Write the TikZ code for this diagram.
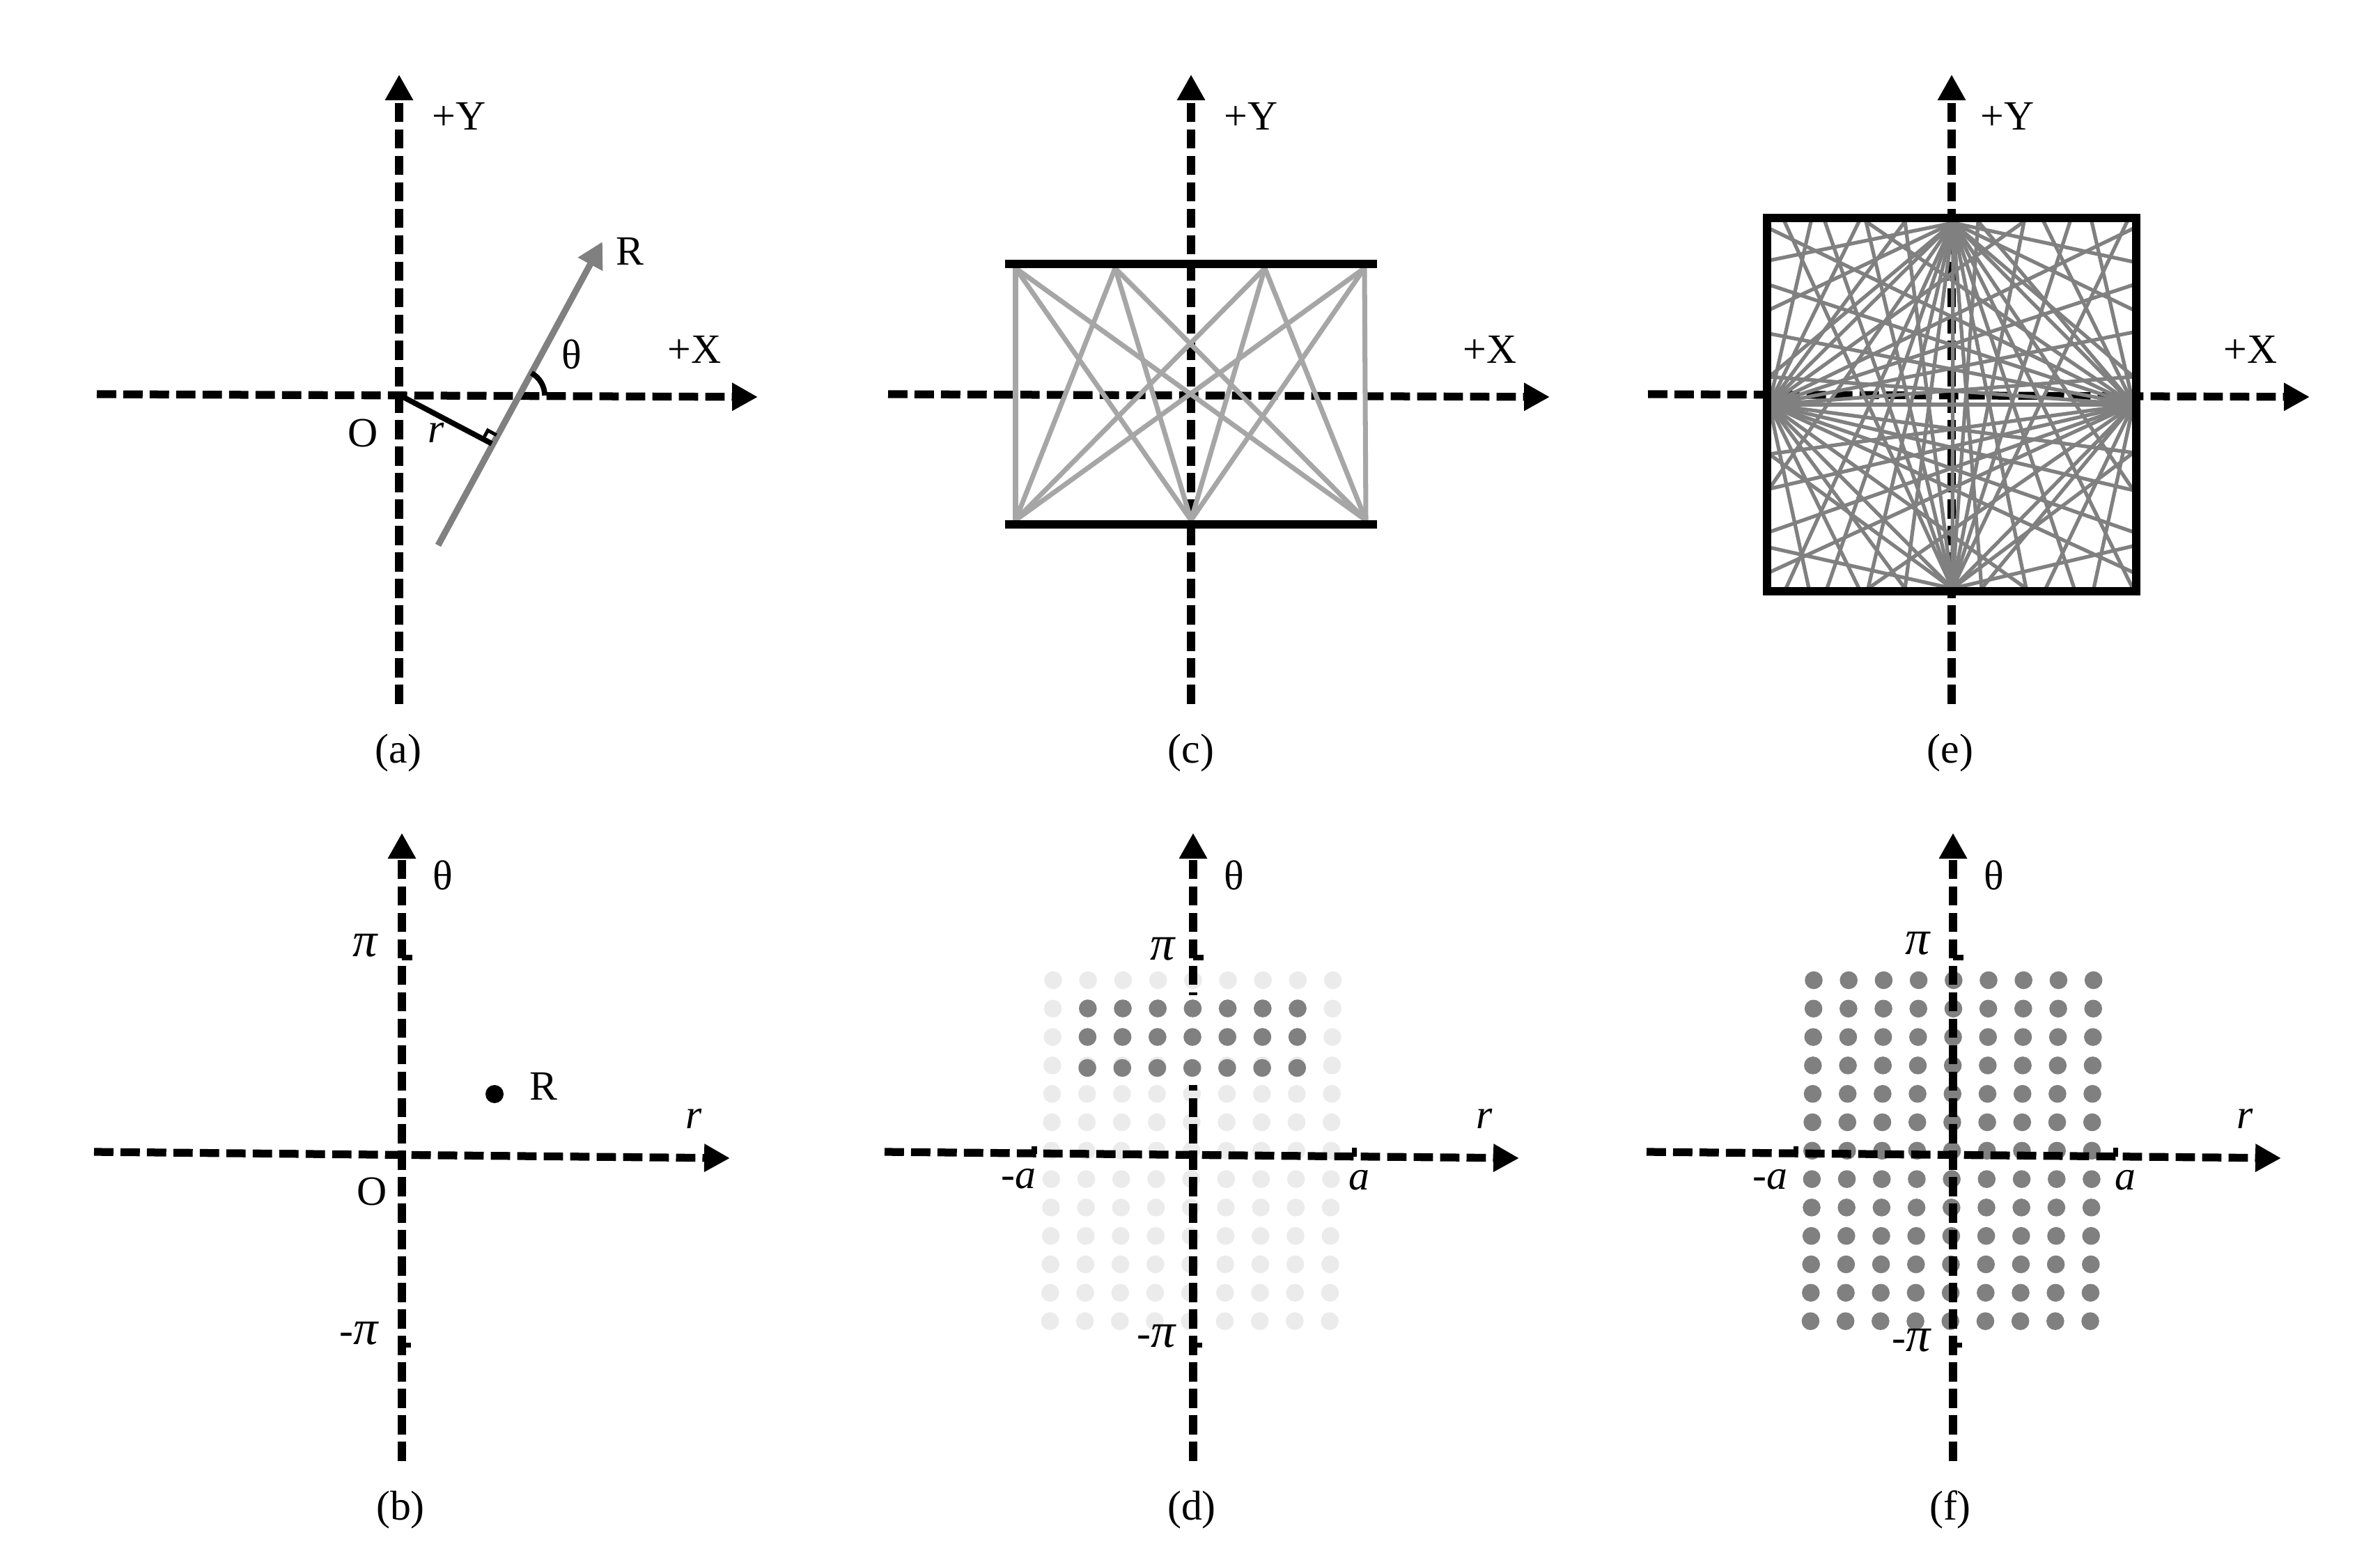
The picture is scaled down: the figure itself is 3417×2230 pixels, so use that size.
\documentclass[tikz,border=0pt]{standalone}
\usepackage{fontspec}
\setmainfont{Liberation Serif}
\usepackage{tikz}
\usetikzlibrary{arrows.meta}
\newcommand{\pisym}{{\fontsize{20}{20}\selectfont\textit{π}}}

\begin{document}
\begin{tikzpicture}
            [x=.01cm,y=-.01cm,
             every node/.style={font=\fontsize{17}{20}\selectfont,inner sep=0pt},
             axis/.style={line width=3.2pt,dash pattern=on 7.9pt off 2.9pt,-{Triangle[length=10.5pt,width=10.8pt]}},
             tick/.style={line width=2pt},
             lightdot/.style={fill=black!8},
             darkdot/.style={fill=black!50},
             ray/.style={line width=1.5pt,black!50}]
            \useasboundingbox (0,0) rectangle (3417,2230);

            % dots lie under the axes
            \foreach \i in {0,...,8}
              \foreach \j in {0,...,12} {
                \fill[lightdot] ({1512+\i*50.2-\j*0.38},{1407.5+\j*40.8}) circle (12.8);
                \fill[darkdot] ({2604+\i*50.2-\j*0.38},{1407.5+\j*40.8}) circle (12.8);
              }

            % axes
            \foreach \p/\vx/\hl/\hr in {a/573/139/1088,c/1710/1275/2225,e/2802/2366/3316} {
              \coordinate (\p top) at (\vx,107);
              \coordinate (\p bot) at (\vx,1011);
              \coordinate (\p left) at (\hl,566);
              \coordinate (\p right) at (\hr,570);
              \draw[axis] (\p bot) -- (\p top);
              \draw[axis] (\p left) -- (\p right);
            }
            \foreach \p/\vx/\hl/\hr in {b/577/135/1048,d/1713/1270/2181,f/2804/2364/3275} {
              \coordinate (\p top) at (\vx,1196);
              \coordinate (\p bot) at (\vx,2098);
              \coordinate (\p left) at (\hl,1654);
              \coordinate (\p right) at (\hr,1663);
              \draw[axis] (\p bot) -- (\p top);
              \draw[axis] (\p left) -- (\p right);
              \draw[tick] (\vx,1375) -- (\vx+15,1375);
              \draw[tick] (\vx,1931) -- (\vx+13,1931);
            }
            \draw[tick] (1485,1646) -- (1485,1657);
            \draw[tick] (1944,1648) -- (1944,1661);
            \draw[tick] (2578,1646) -- (2578,1657);
            \draw[tick] (3037,1648) -- (3037,1661);

            % (a)
            \coordinate (O) at (573,567);
            \coordinate (foot) at (706,637);
            \coordinate (Rs) at (629,783);
            \coordinate (Re) at (865,347);
            \draw[line width=2.6pt,black!50,-{Triangle[length=10.5pt,width=10.8pt]}] (Rs) -- (Re);
            \draw[line width=2.2pt] (O) -- (foot);
            \draw[line width=1.4pt] (693.7,630.3) -- (700.4,618) -- (712.7,624.7);
            \draw[line width=2.2pt] (763,535.6) arc (-61:0:37);
            \node (aY) at (659,167) {+Y};
            \node (aX) at (997,502) {+X};
            \node (aR) at (904,361) {R};
            \node (atheta) at (821,509) {θ};
            \node (aO) at (521,622) {O};
            \node (ar) at (626,621) {\textit{r}};
            \node (acap) at (572,1081) {(a)};

            % (c)
            \foreach \tx in {1458,1601,1816,1959}
              \foreach \bx in {1458,1710,1961}
                \draw[line width=2pt,black!35] (\tx,385) -- (\bx,747);
            \draw[line width=3.2pt] (1443,379) -- (1977,379);
            \draw[line width=3.2pt] (1443,753) -- (1977,753);
            \node (cY) at (1796,167) {+Y};
            \node (cX) at (2139,502) {+X};
            \node (ccap) at (1710,1081) {(c)};

            % (e)
            \coordinate (eT) at (2804,320);
            \coordinate (eB) at (2803,845);
            \coordinate (eL) at (2540,581);
            \coordinate (eR) at (3063,581);
            \foreach \ex/\hub in {2562/eB,2600/eL,2620/eB,2669/eL,2679/eR,2735/eB,2735/eL,2840/eB,2840/eR,2906/eL,2906/eB,
                                  2934/eR,2972/eB,3003/eR,3054/eB,2679/eB}
              \draw[ray] (\ex,318) -- (\hub);
            \foreach \ex/\hub in {2564/eT,2597/eL,2623/eT,2669/eL,2682/eR,2735/eT,2735/eL,2845/eT,2845/eR,2909/eL,2909/eT,
                                  2937/eR,2978/eT,3006/eR,3062/eT,2682/eT}
              \draw[ray] (\ex,845) -- (\hub);
            \foreach \ey/\hub in {328/eR,374/eT,409/eR,445/eT,479/eR,541/eR,541/eT,652/eR,652/eB,702/eR,702/eT,764/eR,786/eB,822/eR}
              \draw[ray] (2540,\ey) -- (\hub);
            \foreach \ey/\hub in {328/eL,376/eT,409/eL,445/eT,477/eL,541/eL,541/eT,650/eL,650/eB,704/eL,704/eT,764/eL,784/eB,822/eL}
              \draw[ray] (3063,\ey) -- (\hub);
            \draw[ray] (eT) -- (eB);
            \draw[ray] (eL) -- (eR);
            \draw[ray] (eT) -- (eL);
            \draw[ray] (eT) -- (eR);
            \draw[ray] (eB) -- (eL);
            \draw[ray] (eB) -- (eR);
            \draw[line width=3.3pt] (2537,313) rectangle (3067,849);
            \node (eY) at (2882,167) {+Y};
            \node (eX) at (3231,502) {+X};
            \node (ecap) at (2800,1081) {(e)};

            % (b)
            \fill (710,1571) circle (13);
            \node (bR) at (780,1560) {R};
            \node (btheta) at (636,1257) {θ};
            \node (bpi) at (525,1358) {\pisym};
            \node (bmpi) at (516,1915) {-\pisym};
            \node (br) at (996,1606) {\textit{r}};
            \node (bO) at (534,1711) {O};
            \node (bcap) at (575,2168) {(b)};

            % (d)
            \fill[white] (1704,1429) rectangle (1722,1558);
            \foreach \i in {1,...,7} {
              \fill[darkdot] ({1512+\i*50.2-0.4},1448) circle (12.8);
              \fill[darkdot] ({1512+\i*50.2-0.8},1489) circle (12.8);
              \fill[darkdot] ({1512+\i*50.2-1.1},1533.5) circle (12.8);
            }
            \node (dtheta) at (1772,1257) {θ};
            \node (dpi) at (1670,1363) {\pisym};
            \node (dmpi) at (1661,1919) {-\pisym};
            \node (dma) at (1462,1693) {-\textit{a}};
            \node (da) at (1951,1695) {\textit{a}};
            \node (dr) at (2131,1606) {\textit{r}};
            \node (dcap) at (1711,2168) {(d)};

            % (f)
            \node (ftheta) at (2863,1257) {θ};
            \node (fpi) at (2754,1355) {\pisym};
            \node (fmpi) at (2745,1925) {-\pisym};
            \node (fma) at (2541,1694) {-\textit{a}};
            \node (fa) at (3051,1695) {\textit{a}};
            \node (fr) at (3223,1606) {\textit{r}};
            \node (fcap) at (2800,2168) {(f)};
        \end{tikzpicture}
\end{document}
